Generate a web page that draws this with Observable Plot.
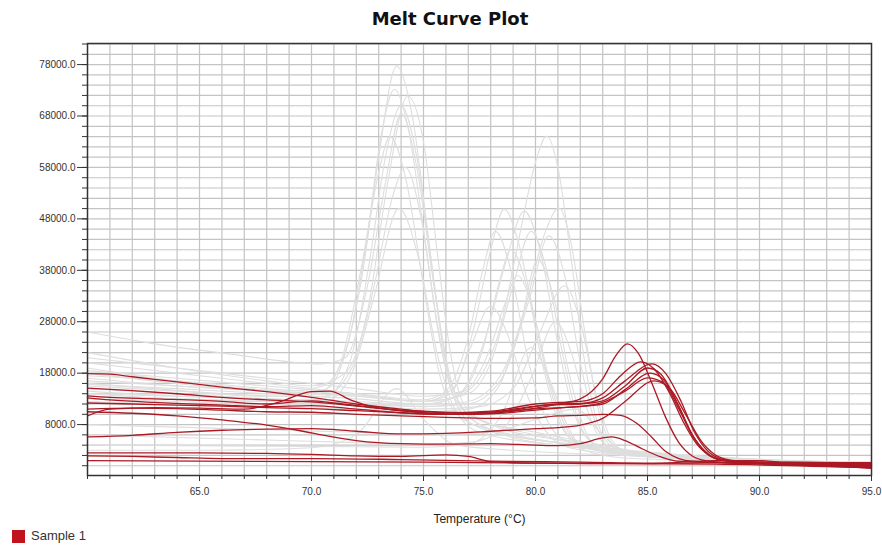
<!DOCTYPE html>
<html><head><meta charset="utf-8">
<script src="https://cdn.jsdelivr.net/npm/d3@7"></script>
<script src="https://cdn.jsdelivr.net/npm/@observablehq/plot@0.6"></script>
<style>
body{margin:0;background:#fff;}
#wrap{width:882px;height:550px;position:relative;overflow:hidden;font-family:"Liberation Sans",Arial,sans-serif;}
#title{height:34px;line-height:38px;text-align:center;padding-left:18px;box-sizing:border-box;font-family:"DejaVu Sans",sans-serif;font-weight:bold;font-size:18px;color:#111;}
#chart svg{display:block;}
#legend{position:absolute;left:12px;top:529px;display:flex;align-items:center;font-size:13px;color:#333;line-height:14px;}
#legend .sw{display:inline-block;width:13px;height:13px;background:#c0141c;margin-right:6px;}
</style></head><body>
<div id="wrap">
<div id="title">Melt Curve Plot</div>
<div id="chart"></div>
<div id="legend"><span class="sw"></span>Sample 1</div>
</div>
<script>
// Tick labels
const xTicks = [65, 70, 75, 80, 85, 90, 95];
const yTicks = [8000, 18000, 28000, 38000, 48000, 58000, 68000, 78000];

// Sample 1 curves (red): [temperature, -dF/dT]
const sample1Curves = [
  [[60,17900],[61,17800],[62,17300],[64,16300],[66,15300],[68,14400],[70,13300],[72,12000],[74,11000],[76,10300],[78,10600],[80,12000],[81,12300],[82,12500],[83,14000],[83.8,17500],[84.7,20200],[85.3,18800],[86,14000],[86.6,8500],[87.2,4200],[87.8,1900],[88.5,1000],[90,600],[92,400],[95,300]],
  [[60,15100],[62,14600],[64,14000],[66,13300],[68,12800],[70,12400],[72,11600],[74,10700],[76,10000],[78,10400],[80,11600],[81,12000],[82,12100],[83,13200],[84,16500],[85.2,19800],[85.8,18000],[86.5,12500],[87.1,6500],[87.7,2800],[88.3,1300],[89,900],[92,300],[95,-200]],
  [[60,13600],[61,13300],[63,13000],[66,12500],[68,12000],[70,12600],[71,12200],[73,11200],[75,10300],[77,10000],[79,10800],[80.5,11800],[82,12000],[83,12600],[84,15500],[85,19000],[85.6,17800],[86.3,12500],[87,6000],[87.6,2500],[88.3,1100],[90,600],[95,100]],
  [[60,13200],[61,12800],[63,12300],[66,11800],[68,11500],[70,11700],[72,11000],[74,10300],[76,10000],[78,10200],[80,11200],[81,12000],[82,13000],[83,16900],[83.6,21500],[84.1,23700],[84.6,21800],[85.2,16000],[85.8,9500],[86.4,4500],[87,1900],[87.6,1000],[89,500],[92,200],[95,-500]],
  [[60,12200],[62,12000],[64,11800],[66,11600],[68,11300],[70,11100],[72,10700],[74,10300],[76,10000],[78,10100],[80,10800],[81.5,11400],[83,12000],[84,14800],[85.1,18000],[85.7,16800],[86.4,11500],[87,6000],[87.7,2300],[88.4,1000],[90,500],[95,0]],
  [[60,9700],[61,11000],[63,11300],[65,11200],[67,11000],[68.5,12300],[70,14400],[70.8,14500],[71.8,12700],[73,11200],[75,10600],[77,10300],[79,10700],[80.5,11200],[82,11500],[83,12300],[84,14500],[85,17100],[85.7,16200],[86.4,11000],[87.1,5200],[87.8,2000],[88.5,1000],[90,700],[95,400]],
  [[60,5600],[62,5900],[64,6500],[66,6900],[68,7100],[70,7200],[72,6700],[74,6200],[76,6300],[78,6700],[80,7200],[81,7400],[82,7900],[83,9200],[84,12500],[85.3,16500],[86,15000],[86.7,10000],[87.4,4800],[88,2200],[88.7,1100],[90,600],[95,-300]],
  [[60,11000],[62,11200],[64,11100],[66,10800],[68,10500],[70,10400],[72,10000],[74,9700],[76,9400],[78,9200],[80,9300],[81,9700],[82,9800],[83,10000],[83.8,9800],[84.5,8300],[85.2,5500],[85.8,2800],[86.4,1400],[87,900],[89,600],[92,400],[95,200]],
  [[60,10500],[62,10200],[64,9700],[66,8900],[68,7900],[69.5,6800],[70.7,5800],[72,4900],[74,4300],[76,4200],[78,4300],[80,4000],[81,3900],[82,4300],[83,5400],[83.4,5600],[84,4900],[84.8,3200],[85.6,1700],[86.3,900],[88,600],[95,-100]],
  [[60,2500],[64,2500],[68,2400],[70,2200],[72,1900],[74,1800],[76,2100],[77,1800],[78,800],[80,500],[84,400],[88,300],[95,-400]],
  [[60,1900],[62,1800],[63,1700],[64,1600],[66,1400],[70,1400],[74,1200],[78,900],[82,700],[86,500],[90,700],[95,500]],
  [[60,1000],[65,900],[70,800],[75,700],[80,500],[85,400],[88,1000],[90,1000],[91,700],[95,600]]
];

// Other samples (grey)
const otherCurves = [
  [[60,19000],[63,17000],[66,15500],[69,14500],[70.5,15500],[71.5,22000],[72.3,38000],[73,60000],[73.8,77700],[74.5,68000],[75.2,45000],[75.8,25000],[76.5,13000],[77.5,8000],[79,6000],[81,4500],[83,3000],[86,1500],[90,700],[95,500]],
  [[60,16000],[63,15000],[66,14000],[69,13500],[70.7,15000],[71.7,25000],[72.5,45000],[73.1,64000],[73.7,73200],[74.3,66000],[75,46000],[75.7,25000],[76.4,13000],[77.5,9000],[80,6500],[83,4000],[86,1800],[95,400]],
  [[60,22000],[64,19000],[68,16500],[70,15500],[71.5,18000],[72.5,30000],[73.4,55000],[74.3,71900],[75,63000],[75.6,42000],[76.2,22000],[76.8,12000],[78,8000],[81,5000],[84,2500],[95,600]],
  [[60,14000],[64,13000],[68,12500],[70.5,13000],[71.7,20000],[72.6,40000],[73.3,60000],[74,70000],[74.7,60000],[75.4,38000],[76,20000],[76.8,11000],[78,7000],[81,4000],[95,300]],
  [[60,26000],[63,23700],[66.4,21700],[70.4,19800],[71.5,21000],[72.5,35000],[73.3,55000],[74,68500],[74.7,58000],[75.5,34000],[76.2,17000],[77,10000],[79,7000],[82,4500],[86,1800],[95,700]],
  [[60,18000],[64,16000],[68,14500],[70.3,14000],[71.3,20000],[72.2,38000],[73,57000],[73.5,64000],[74.2,56000],[75,35000],[75.7,18000],[76.5,10000],[78,7000],[82,4000],[95,500]],
  [[60,15500],[64,14500],[68,13500],[70.5,13500],[71.8,19000],[72.8,35000],[73.6,52000],[74.2,58000],[74.9,48000],[75.6,28000],[76.3,14000],[77.2,8000],[80,5000],[95,300]],
  [[60,13000],[64,12500],[68,12000],[70.6,12500],[71.8,18000],[72.8,33000],[73.9,50000],[74.8,40000],[75.6,22000],[76.4,11000],[77.5,6500],[81,4000],[95,200]],
  [[60,17000],[64,15500],[68,14500],[72,13500],[75,12500],[76.5,13500],[77.5,17000],[78.5,28000],[79.3,45000],[80,59000],[80.5,64100],[81,58000],[81.6,40000],[82.2,20000],[82.8,8000],[83.5,3500],[85,1800],[90,800],[95,500]],
  [[60,15000],[64,14000],[68,13000],[72,12200],[75,11500],[77,12500],[78.5,18000],[79.5,30000],[80.4,45000],[81.05,50100],[81.6,43000],[82.2,26000],[82.8,11000],[83.5,4000],[85,1800],[95,300]],
  [[60,16500],[64,15500],[68,14500],[72,13500],[75,12500],[76.3,15000],[77.2,26000],[78,42000],[78.6,49900],[79.2,44000],[79.9,30000],[80.6,16000],[81.3,7000],[82.2,3500],[85,1800],[95,500]],
  [[60,14500],[64,13500],[68,13000],[72,12500],[75,11800],[76.6,14000],[77.7,24000],[78.7,40000],[79.5,49500],[80.2,42000],[80.9,26000],[81.6,12000],[82.4,5000],[84,2200],[95,300]],
  [[60,20000],[64,18000],[68,16000],[72,14000],[75,12500],[77,14000],[78,20000],[79,35000],[79.8,45600],[80.5,38000],[81.2,22000],[81.9,9000],[82.7,4000],[85,2000],[95,600]],
  [[60,13500],[64,13000],[68,12500],[72,12000],[75,11500],[77,12000],[78.5,17000],[79.7,32000],[80.6,44700],[81.3,37000],[82,20000],[82.7,8000],[83.5,3000],[86,1500],[95,400]],
  [[60,18500],[64,17000],[68,15500],[72,14000],[75,12800],[76,14500],[77,25000],[77.7,39000],[78.2,45600],[78.9,38000],[79.6,22000],[80.4,10000],[81.3,5000],[84,2500],[95,600]],
  [[60,15800],[64,15000],[68,14000],[72,13000],[75,12000],[76.5,13500],[77.6,22000],[78.4,36000],[78.9,42000],[79.6,35000],[80.3,20000],[81,9000],[82,4000],[85,1800],[95,400]],
  [[60,12500],[64,12000],[68,11500],[72,11000],[75,10500],[77,11000],[78.3,15000],[79.3,27000],[80.1,40000],[80.8,33000],[81.5,18000],[82.2,7000],[83,3000],[86,1500],[95,300]],
  [[60,21000],[64,19000],[68,17000],[72,15000],[75,13500],[76.8,14500],[77.9,22000],[78.6,31000],[79.2,37000],[79.9,30000],[80.6,17000],[81.3,8000],[82.2,3500],[85,2000],[95,600]],
  [[60,14000],[64,13500],[68,13000],[72,12000],[75,11000],[77.5,11500],[79,15000],[80.2,26000],[81.3,35000],[82,28000],[82.7,14000],[83.4,5000],[84.2,2500],[95,400]],
  [[60,17500],[64,16500],[68,15000],[72,13800],[75,12500],[76.2,14000],[77.1,23000],[78,31000],[78.8,25000],[79.6,14000],[80.5,6500],[81.5,3500],[85,1800],[95,500]],
  [[60,6000],[64,5500],[68,5000],[72,4500],[75,4200],[77,4500],[78.5,7000],[79.8,17000],[80.9,28000],[81.6,22000],[82.3,11000],[83,4500],[84,2000],[95,300]],
  [[60,4000],[64,3900],[68,3800],[72,3700],[75,3600],[77,4200],[78.5,10000],[79.8,23000],[80.6,17000],[81.4,8000],[82.2,3000],[84,1500],[95,200]],
  [[60,3000],[65,3000],[70,3500],[72,6000],[73.8,15000],[75,9000],[76.5,4000],[79,3000],[84,2000],[95,400]],
  [[60,8000],[64,7500],[68,7000],[72,6500],[75,6000],[78,6500],[80,9000],[81.8,11000],[83,6000],[84,2500],[86,1500],[95,500]]
];

const toRows = (curves, prefix) => curves.flatMap((c, i) => c.map(([T, v]) => ({T, v, id: prefix + i})));
const redData = toRows(sample1Curves, "s");
const greyData = toRows(otherCurves, "o");

const gridX = d3.range(61, 95, 1);
const gridY = d3.range(0, 82001, 2000);

const chart = Plot.plot({
  width: 882,
  height: 492,
  marginLeft: 87,
  marginRight: 11,
  marginTop: 9,
  marginBottom: 51,
  style: {fontFamily: "'Liberation Sans', Arial, sans-serif", fontSize: "10px", color: "#333", background: "#fff"},
  x: {domain: [60, 95]},
  y: {domain: [-1900, 82100]},
  marks: [
    Plot.ruleX(gridX, {stroke: "#c4c4c4", strokeWidth: 1.2}),
    Plot.ruleY(gridY, {stroke: "#c4c4c4", strokeWidth: 1.2}),
    Plot.line(greyData, {x: "T", y: "v", z: "id", stroke: "#dedede", strokeWidth: 1.1, curve: "monotone-x"}),
    Plot.line(redData, {x: "T", y: "v", z: "id", stroke: "#ab1a24", strokeWidth: 1.3, curve: "monotone-x"}),
    Plot.frame({stroke: "#333", strokeWidth: 1.5}),
    Plot.axisX(d3.range(60, 96, 1), {tickSize: 4, tickFormat: () => "", label: null}),
    Plot.axisX(xTicks, {tickSize: 6, tickPadding: 6, tickFormat: d => d.toFixed(1), label: null}),
    Plot.axisY(gridY, {tickSize: 5, tickFormat: () => "", label: null}),
    Plot.axisY(yTicks, {tickSize: 10, tickPadding: 2, tickFormat: d => d.toFixed(1), label: null}),
    Plot.text(["Temperature (°C)"], {frameAnchor: "bottom", dy: 47, fontSize: 12, fill: "#222"})
  ]
});
document.getElementById("chart").appendChild(chart);
</script>
</body></html>
